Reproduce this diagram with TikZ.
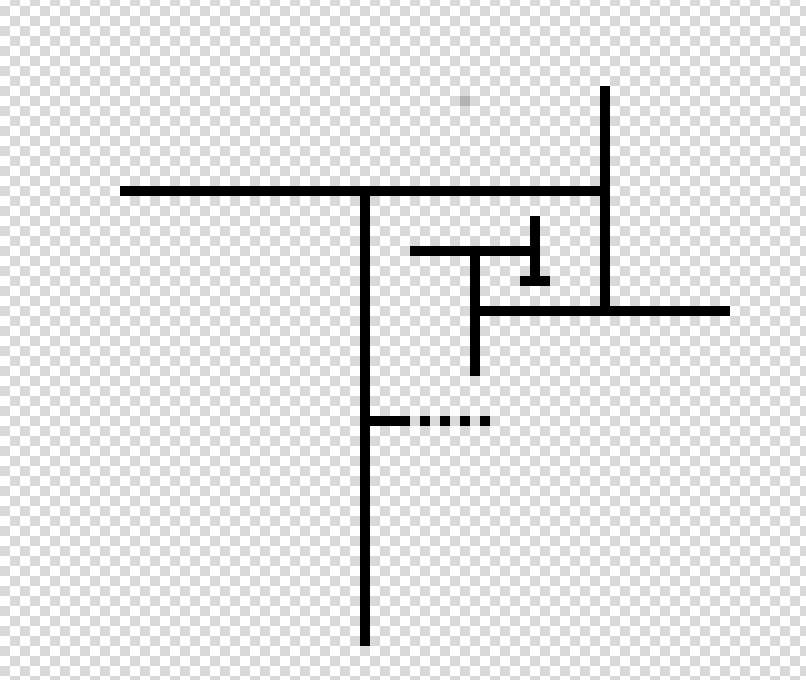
\documentclass[tikz,border=0pt]{standalone}
\definecolor{chkgray}{HTML}{D9D9D9}
\definecolor{speckgray}{HTML}{B3B3B3}
\tikzset{
  chk/.style={fill=chkgray},
  ink/.style={fill=black},
  speck/.style={fill=speckgray}
}
\begin{document}
\begin{tikzpicture}[x=1pt,y=-1pt]
\useasboundingbox (0,0) rectangle (806,680);
\fill[white] (0,0) rectangle (806,680);
\begin{scope}
\clip (0,0) rectangle (806,680);
\foreach \j in {-1,1,...,67}
  \foreach \i in {1,3,...,81}
    \fill[chk] (10*\i,10*\j+6) rectangle +(10,10);
\foreach \j in {0,2,...,66}
  \foreach \i in {0,2,...,80}
    \fill[chk] (10*\i,10*\j+6) rectangle +(10,10);
\end{scope}
% speck
\fill[speck] (460,96) rectangle (470,106);
% black strokes
\fill[ink] (120,186) rectangle (610,196);
\fill[ink] (600,86) rectangle (610,316);
\fill[ink] (480,306) rectangle (730,316);
\fill[ink] (360,186) rectangle (370,646);
\fill[ink] (410,246) rectangle (540,256);
\fill[ink] (530,216) rectangle (540,286);
\fill[ink] (520,276) rectangle (550,286);
\fill[ink] (470,246) rectangle (480,376);
\fill[ink] (370,416) rectangle (410,426);
\foreach \x in {420,440,460,480}
  \fill[ink] (\x,416) rectangle +(10,10);
\end{tikzpicture}
\end{document}
